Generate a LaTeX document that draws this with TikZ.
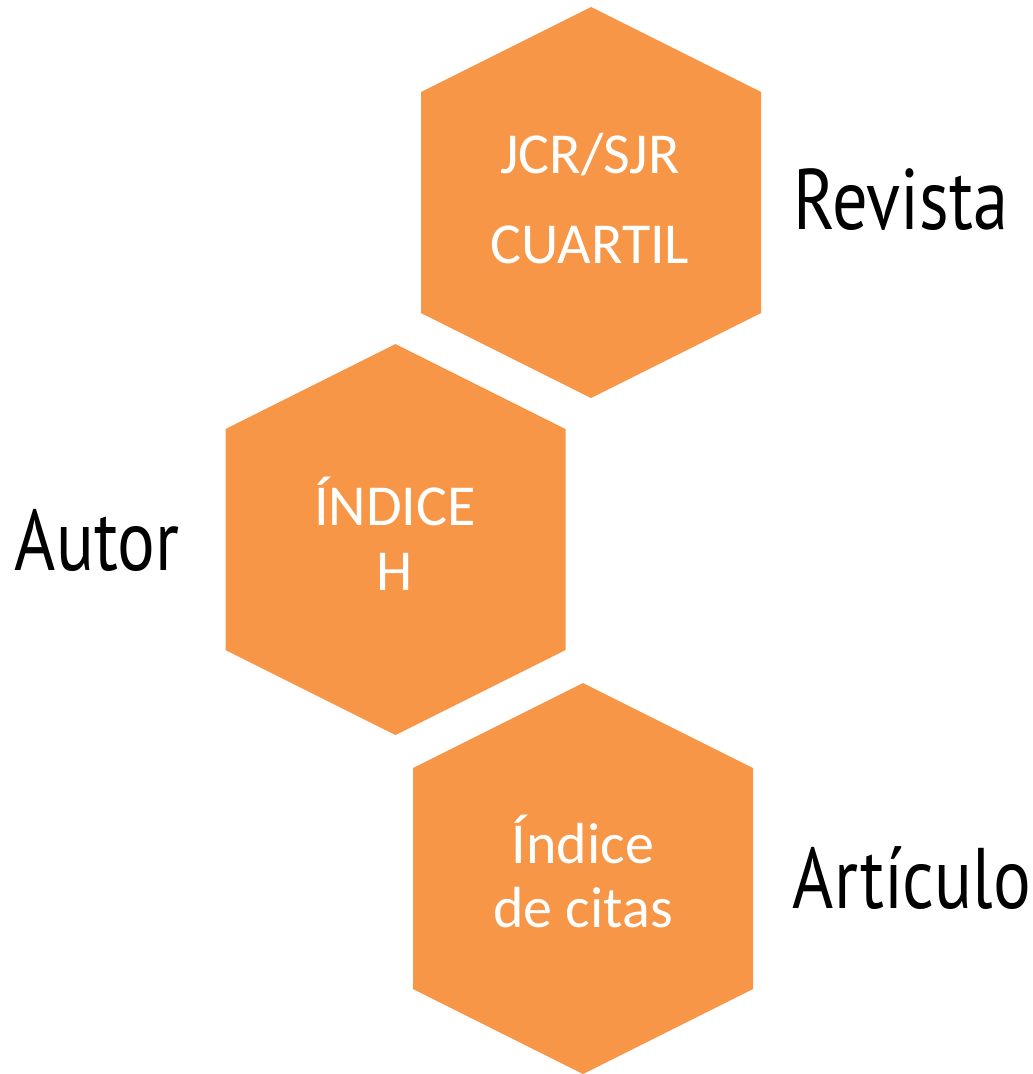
\documentclass[tikz,border=0pt]{standalone}
\usepackage{fontspec}
\usetikzlibrary{calc}
\setmainfont{Carlito}
\newfontfamily\labfont{PT Sans}
\definecolor{hexorange}{HTML}{F79646}
\newcommand{\hexat}[1]{%
  \fill[hexfill] ($(#1)+(0,-195.5)$) -- ($(#1)+(170,-110.5)$) -- ($(#1)+(170,110.5)$) -- ($(#1)+(0,195.5)$) -- ($(#1)+(-170,110.5)$) -- ($(#1)+(-170,-110.5)$) -- cycle;}
\newcommand{\labtxt}[1]{\scalebox{0.82}[1]{\labfont\fontsize{86}{90}\selectfont #1}}
\begin{document}
\begin{tikzpicture}[x=1pt,y=-1pt,
  hexfill/.style={fill=hexorange},
  intext/.style={text=white,font=\fontsize{58}{60}\selectfont,anchor=base,inner sep=0pt},
  labtext/.style={text=black,anchor=base,inner sep=0pt}]
\useasboundingbox (0,0) rectangle (1033,1074);
\coordinate (c1) at (591,202.5);
\coordinate (c2) at (395.5,539.5);
\coordinate (c3) at (583,878.5);
\hexat{c1}
\hexat{c2}
\hexat{c3}
\node[intext] (t1a) at (590,173) {JCR/SJR};
\node[intext] (t1b) at (590,263) {CUARTIL};
\node[intext] (t2a) at (395,525) {ÍNDICE};
\node[intext] (t2b) at (395,590) {H};
\node[intext] (t3a) at (583,863) {Índice};
\node[intext] (t3b) at (583,927) {de citas};
\node[labtext] (l1) at (901,229) {\labtxt{Revista}};
\node[labtext] (l2) at (97,570) {\labtxt{Autor}};
\node[labtext] (l3) at (912,908) {\labtxt{Artículo}};
\end{tikzpicture}
\end{document}
